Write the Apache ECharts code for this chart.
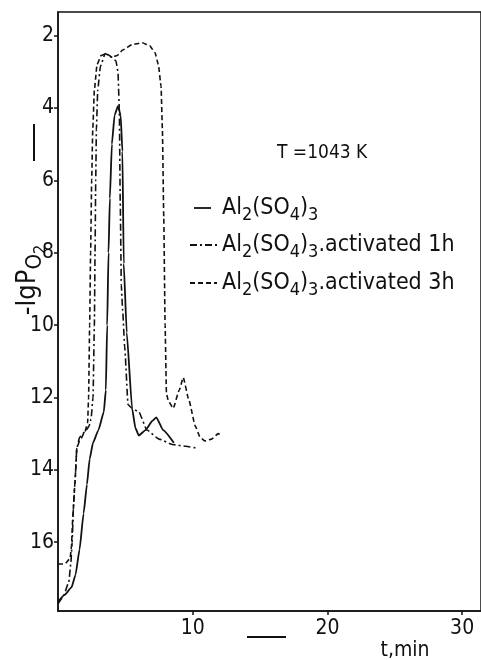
<!DOCTYPE html>
<html>
<head>
<meta charset="utf-8">
<script src="https://cdn.jsdelivr.net/npm/echarts@6/dist/echarts.min.js"></script>
<style>
html,body{margin:0;padding:0;background:#fff;}
#chart{width:481px;height:660px;}
</style>
</head>
<body>
<div id="chart"></div>
<script>
// ---- data ----
const tPlain = [0, 0.5, 1.0, 1.3, 1.6, 1.9, 2.15, 2.35, 2.6, 3.0, 3.4, 3.55, 3.65, 3.75, 3.85, 4.0, 4.2, 4.45, 4.65, 4.78, 4.88, 5.1, 5.5, 5.75, 6.0, 6.5, 7.0, 7.3, 7.8, 8.6];
const yPlain = [17.65, 17.45, 17.25, 16.9, 16.2, 15.2, 14.4, 13.7, 13.25, 12.9, 12.4, 11.8, 10.0, 8.0, 6.5, 5.0, 4.2, 3.95, 4.2, 5.2, 8.3, 10.2, 12.3, 12.85, 13.05, 12.9, 12.65, 12.55, 12.9, 13.25];

const t1h = [0, 0.4, 0.8, 0.95, 1.05, 1.15, 1.25, 1.4, 1.6, 2.0, 2.3, 2.45, 2.6, 2.7, 2.75, 2.8, 2.85, 2.95, 3.15, 3.5, 4.0, 4.3, 4.45, 4.55, 4.62, 4.7, 4.8, 4.95, 5.2, 5.5, 6.0, 6.6, 7.5, 8.5, 9.5, 10.3];
const y1h = [17.7, 17.5, 17.1, 16.6, 16.0, 15.0, 14.4, 13.4, 13.1, 12.95, 12.8, 12.6, 12.0, 10.0, 8.0, 6.0, 4.6, 3.5, 2.85, 2.5, 2.6, 2.7, 3.0, 4.0, 6.6, 8.9, 9.6, 10.6, 12.2, 12.3, 12.4, 12.9, 13.15, 13.3, 13.35, 13.4];

const t3h = [0, 0.5, 0.9, 1.0, 1.1, 1.25, 1.4, 1.6, 2.0, 2.2, 2.27, 2.35, 2.42, 2.5, 2.58, 2.7, 2.9, 3.2, 3.6, 4.0, 4.4, 4.8, 5.5, 6.25, 6.8, 7.2, 7.45, 7.65, 7.75, 7.85, 7.95, 8.05, 8.2, 8.55, 9.0, 9.3, 9.7, 10.2, 10.55, 10.9, 11.4, 11.9, 12.05];
const y3h = [16.6, 16.6, 16.45, 16.1, 15.3, 14.4, 13.4, 13.2, 12.95, 12.7, 12.0, 10.0, 8.0, 6.0, 4.6, 3.5, 2.8, 2.55, 2.5, 2.6, 2.55, 2.4, 2.25, 2.2, 2.28, 2.47, 2.8, 3.4, 4.6, 7.0, 10.0, 11.9, 12.1, 12.3, 11.8, 11.45, 12.05, 12.8, 13.1, 13.2, 13.15, 13.0, 13.05];

const yTicks = [2, 4, 6, 8, 10, 12, 14, 16];
const xTicks = [10, 20, 30];
const seriesNames = ['Al2(SO4)3', 'Al2(SO4)3.activated 1h', 'Al2(SO4)3.activated 3h'];
const note = 'T =1043 K';

function pairs(t, y) { return t.map((v, i) => [v, y[i]]); }

const FONT = '"DejaVu Sans Condensed", "Liberation Sans Narrow", "DejaVu Sans", sans-serif';
const INK = '#111';
const sub = { fontSize: 18, fontFamily: FONT, color: INK, padding: [14, 0, 0, 0] };

const chart = echarts.init(document.getElementById('chart'), null, { renderer: 'canvas' });

const legendY = [208, 245, 283];
const legendDash = [null, [7, 3, 2, 3], [5, 3]];
const legendText = [
  'Al{s|2}(SO{s|4}){s|3}',
  'Al{s|2}(SO{s|4}){s|3}.activated 1h',
  'Al{s|2}(SO{s|4}){s|3}.activated 3h'
];

const graphics = [];
legendY.forEach((y, i) => {
  graphics.push({
    type: 'line', shape: { x1: i === 0 ? 194 : 190, y1: y, x2: i === 0 ? 211 : 217, y2: y },
    style: { stroke: INK, lineWidth: 1.8, lineDash: legendDash[i] }
  });
  graphics.push({
    type: 'text', x: 222, y: y,
    style: {
      text: legendText[i], fontSize: 23, fontFamily: FONT, fill: INK,
      verticalAlign: 'middle', align: 'left',
      rich: { s: sub }
    }
  });
});
graphics.push({
  type: 'text', x: 277, y: 153,
  style: { text: note, fontSize: 19, fontFamily: FONT, fill: INK, verticalAlign: 'middle' }
});
// axis name (y)
graphics.push({
  type: 'text', x: 28, y: 280, rotation: Math.PI / 2,
  style: {
    text: '-lgP{s|O}{ss|2}', fontSize: 27, fontFamily: FONT, fill: INK,
    align: 'center', verticalAlign: 'middle',
    rich: {
      s: { fontSize: 22, fontFamily: FONT, color: INK, padding: [15, 0, 0, 0] },
      ss: { fontSize: 16, fontFamily: FONT, color: INK, padding: [26, 0, 0, 0] }
    }
  }
});
// direction strokes
graphics.push({ type: 'line', shape: { x1: 34, y1: 124, x2: 34, y2: 161 }, style: { stroke: INK, lineWidth: 2 } });
graphics.push({ type: 'line', shape: { x1: 247, y1: 637, x2: 286, y2: 637 }, style: { stroke: INK, lineWidth: 2 } });
// x axis name
graphics.push({
  type: 'text', x: 405, y: 651,
  style: { text: 't,min', fontSize: 21, fontFamily: FONT, fill: INK, align: 'center', verticalAlign: 'middle' }
});

const lineBase = { type: 'line', showSymbol: false, symbol: 'none', smooth: 0.15, smoothMonotone: 'x', animation: false };

chart.setOption({
  animation: false,
  backgroundColor: '#fff',
  grid: { left: 58, top: 12, right: 0, bottom: 49, show: true, borderColor: INK, borderWidth: 1.5, backgroundColor: 'transparent' },
  xAxis: {
    type: 'value', min: 0, max: 31.4,
    axisLine: { show: true, lineStyle: { color: INK, width: 1.5 } },
    axisTick: { show: true, length: 4, customValues: xTicks, lineStyle: { color: INK, width: 1.5 } },
    axisLabel: { customValues: xTicks, fontSize: 21, fontFamily: FONT, color: INK, margin: 7 },
    splitLine: { show: false }
  },
  yAxis: {
    type: 'value', inverse: true, min: 1.35, max: 17.9,
    axisLine: { show: true, lineStyle: { color: INK, width: 1.5 } },
    axisTick: { show: true, length: 4, customValues: yTicks, lineStyle: { color: INK, width: 1.5 } },
    axisLabel: { customValues: yTicks, fontSize: 21, fontFamily: FONT, color: INK, margin: 4 },
    splitLine: { show: false }
  },
  graphic: graphics,
  series: [
    Object.assign({}, lineBase, { name: seriesNames[0], data: pairs(tPlain, yPlain), lineStyle: { color: INK, width: 1.8, type: 'solid' } }),
    Object.assign({}, lineBase, { name: seriesNames[1], data: pairs(t1h, y1h), lineStyle: { color: INK, width: 1.6, type: [7, 3, 2, 3] } }),
    Object.assign({}, lineBase, { name: seriesNames[2], data: pairs(t3h, y3h), lineStyle: { color: INK, width: 1.6, type: [5, 3] } })
  ]
});
</script>
</body>
</html>
